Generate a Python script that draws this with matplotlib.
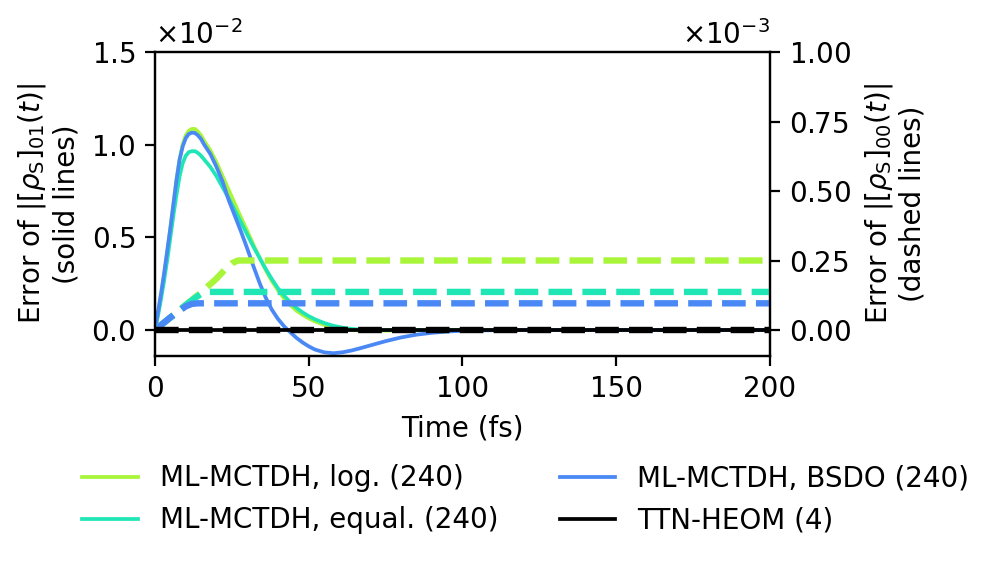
import numpy as np
import matplotlib
matplotlib.use("Agg")
import matplotlib.pyplot as plt

# time grid (fs) for the coherence errors (solid lines)
t_solid = [0, 1, 2, 3, 4, 5, 6, 7, 8, 9, 10, 11, 12, 13, 14, 15, 16, 18, 20,
           22, 24, 26, 28, 30, 32, 34, 36, 38, 40, 42, 44, 46, 48, 50, 52, 55,
           58, 61, 64, 67, 70, 75, 80, 85, 90, 95, 100, 110, 120, 160, 200]

# error of |rho_01| in units of 1e-2
err01_log = [0, 0.09, 0.19, 0.30, 0.42, 0.55, 0.68, 0.81, 0.92, 1.00, 1.05,
             1.075, 1.085, 1.085, 1.07, 1.05, 1.02, 0.97, 0.905, 0.83, 0.755,
             0.68, 0.605, 0.535, 0.46, 0.39, 0.325, 0.265, 0.215, 0.17, 0.135,
             0.105, 0.082, 0.063, 0.047, 0.028, 0.013, 0.004, 0.0, -0.003,
             -0.004, -0.003, -0.002, -0.001, 0, 0, 0, 0, 0, 0, 0]
err01_equal = [0, 0.08, 0.17, 0.27, 0.38, 0.50, 0.62, 0.73, 0.83, 0.90, 0.94,
               0.96, 0.965, 0.965, 0.955, 0.94, 0.92, 0.88, 0.83, 0.77, 0.71,
               0.645, 0.58, 0.515, 0.45, 0.39, 0.33, 0.275, 0.225, 0.185, 0.15,
               0.12, 0.095, 0.075, 0.058, 0.038, 0.023, 0.013, 0.006, 0.002,
               0.0, 0, 0, 0, 0, 0, 0, 0, 0, 0, 0]
err01_bsdo = [0, 0.10, 0.20, 0.31, 0.43, 0.55, 0.68, 0.81, 0.92, 0.99, 1.035,
              1.058, 1.065, 1.063, 1.05, 1.03, 1.0, 0.95, 0.88, 0.80, 0.70,
              0.615, 0.53, 0.44, 0.345, 0.255, 0.175, 0.11, 0.06, 0.02, -0.012,
              -0.042, -0.067, -0.088, -0.105, -0.12, -0.125, -0.12, -0.11,
              -0.097, -0.083, -0.06, -0.04, -0.025, -0.015, -0.008, -0.004,
              -0.001, 0, 0, 0]
err01_heom = [0] * len(t_solid)

# error of |rho_00| in units of 1e-3 (dashed lines)
t_log00 = [0, 5, 10, 15, 20, 23, 25, 27, 30, 200]
err00_log = [0, 0.045, 0.09, 0.135, 0.185, 0.22, 0.24, 0.25, 0.25, 0.25]
t_equal00 = [0, 5, 10, 13, 15, 17, 200]
err00_equal = [0, 0.045, 0.09, 0.115, 0.13, 0.137, 0.137]
t_bsdo00 = [0, 5, 10, 12, 14, 200]
err00_bsdo = [0, 0.045, 0.085, 0.094, 0.096, 0.096]
t_heom00 = [0, 200]
err00_heom = [0, 0]

labels = ["ML-MCTDH, log. (240)", "ML-MCTDH, equal. (240)",
          "ML-MCTDH, BSDO (240)", "TTN-HEOM (4)"]
colors = ["#a8f53a", "#20e6b6", "#4a88f5", "black"]

plt.rcParams["font.size"] = 10

fig = plt.figure(figsize=(4.98, 2.82), dpi=200)
ax = fig.add_axes([0.1556, 0.3688, 0.6175, 0.539])
ax2 = ax.twinx()

solid = [err01_log, err01_equal, err01_bsdo, err01_heom]
handles = []
for y, c, lab in zip(solid, colors, labels):
    h, = ax.plot(t_solid, np.array(y) * 1e-2, color=c, lw=1.35, label=lab)
    handles.append(h)

dashed = [(t_log00, err00_log), (t_equal00, err00_equal),
          (t_bsdo00, err00_bsdo), (t_heom00, err00_heom)]
for (x, y), c in zip(dashed, colors):
    ax2.plot(x, np.array(y) * 1e-3, color=c, lw=2.3, ls="--")

ax.set_xlim(0, 200)
ax.set_ylim(-0.14e-2, 1.5e-2)
ax2.set_ylim(-0.0935e-3, 1.0e-3)
ax.set_xticks([0, 50, 100, 150, 200])
ax.set_yticks([0, 0.5e-2, 1.0e-2, 1.5e-2])
ax2.set_yticks([0, 0.25e-3, 0.5e-3, 0.75e-3, 1.0e-3])
ax.ticklabel_format(axis="y", style="sci", scilimits=(0, 0), useMathText=True)
ax2.ticklabel_format(axis="y", style="sci", scilimits=(0, 0), useMathText=True)

ax.set_xlabel("Time (fs)")
ax.set_ylabel("Error of $|[\\rho_\\mathrm{S}]_{01}(t)|$\n(solid lines)")
ax2.set_ylabel("Error of $|[\\rho_\\mathrm{S}]_{00}(t)|$\n(dashed lines)")

fig.legend(handles=handles, loc="upper center", bbox_to_anchor=(0.528, 0.221),
           ncol=2, frameon=False, columnspacing=2.2)

fig.savefig("out.png", dpi=200)
